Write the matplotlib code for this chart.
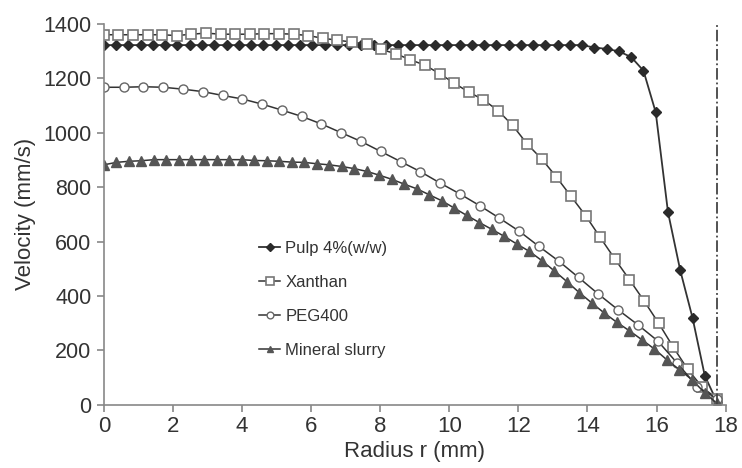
import numpy as np
import matplotlib
matplotlib.use('Agg')
import matplotlib.pyplot as plt

# Velocity profiles across the pipe radius
plt.rcParams['font.family'] = ['Liberation Sans', 'DejaVu Sans']

r_wall = 17.75

pulp_v = [1322] * 40 + [1313, 1308, 1299, 1278, 1228, 1075, 708, 494, 320, 107, 10]
xanthan_v = [1360, 1360, 1360, 1360, 1360, 1357, 1362, 1366, 1362, 1362, 1362,
             1364, 1364, 1362, 1357, 1347, 1340, 1333, 1325, 1306, 1290, 1268,
             1248, 1217, 1182, 1149, 1121, 1081, 1027, 958, 903, 837, 766, 695,
             615, 536, 460, 382, 300, 212, 130, 64, 22]
peg_v = [1167, 1167, 1169, 1167, 1160, 1151, 1137, 1124, 1105, 1083, 1060, 1032,
         1000, 968, 931, 894, 857, 815, 775, 732, 686, 638, 582, 528, 468, 407,
         349, 294, 235, 152, 67, 22]
slurry_v = [882, 891, 895, 897, 901, 901, 901, 901, 901, 901, 901, 901, 898, 897,
            895, 892, 891, 886, 882, 876, 868, 858, 844, 829, 811, 794, 772, 750,
            723, 696, 670, 645, 619, 591, 564, 530, 492, 453, 412, 374, 337, 303,
            272, 239, 205, 165, 129, 92, 45, 5]

# radial positions: equally spaced from the centre to the wall
pulp_r = np.linspace(0, r_wall, len(pulp_v))
xanthan_r = np.linspace(0, r_wall, len(xanthan_v))
peg_r = np.linspace(0, r_wall, len(peg_v))
slurry_r = np.linspace(0, r_wall, len(slurry_v))

fig = plt.figure(figsize=(7.42, 4.68), dpi=100)
ax = fig.add_axes([0.140, 0.135, 0.838, 0.814])

line_c = '#333333'
ax.plot(pulp_r, pulp_v, color=line_c, lw=1.3, marker='D', ms=5,
        mfc='#2a2a2a', mec='#2a2a2a', label='Pulp 4%(w/w)')
ax.plot(xanthan_r, xanthan_v, color=line_c, lw=1.1, marker='s', ms=7.2,
        mfc='white', mec='#777777', mew=1.2, label='Xanthan')
ax.plot(peg_r, peg_v, color=line_c, lw=1.1, marker='o', ms=6.5,
        mfc='white', mec='#666666', mew=1.0, label='PEG400')
ax.plot(slurry_r, slurry_v, color=line_c, lw=1.1, marker='^', ms=6.5,
        mfc='#555555', mec='#555555', label='Mineral slurry')

# pipe wall
ax.plot([r_wall, r_wall], [0, 1400], color='#444444', lw=1.3, ls='-.')

ax.set_xlim(0, 18)
ax.set_ylim(0, 1400)
ax.set_xticks(range(0, 19, 2))
ax.set_yticks(range(0, 1401, 200))

for s in ['top', 'right']:
    ax.spines[s].set_visible(False)
for s in ['left', 'bottom']:
    ax.spines[s].set_color('#888888')
    ax.spines[s].set_linewidth(1.2)
ax.tick_params(colors='#888888', length=5, width=1.2, labelcolor='#333333')
ax.tick_params(axis='x', labelsize=16, pad=3)
ax.tick_params(axis='y', labelsize=15.5, pad=4)

ax.set_xlabel('Radius r (mm)', fontsize=16, color='#333333', labelpad=3)
ax.set_ylabel('Velocity (mm/s)', fontsize=16, color='#333333', labelpad=5)

ax.legend(loc='upper left', bbox_to_anchor=(0.225, 0.47), frameon=False,
          fontsize=12, handlelength=1.3, handletextpad=0.3, labelspacing=1.15,
          markerscale=0.75, labelcolor='#333333')

fig.savefig('out.png', dpi=100)
